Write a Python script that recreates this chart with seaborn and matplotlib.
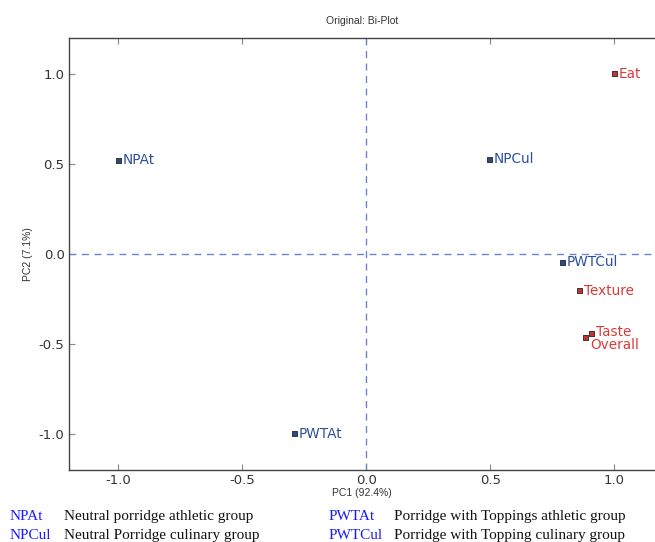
import numpy as np
import pandas as pd
import matplotlib.pyplot as plt
import seaborn as sns

# -----------------------------
# Bi-plot scores / loadings
# -----------------------------
labels = ["NPAt", "NPCul", "PWTAt", "PWTCul", "Eat", "Texture", "Taste", "Overall"]
pc1 = [-1.0, 0.497, -0.29, 0.79, 1.0, 0.86, 0.91, 0.885]
pc2 = [0.52, 0.526, -1.0, -0.045, 1.0, -0.205, -0.443, -0.465]
kind = ["sample", "sample", "sample", "sample", "attribute", "attribute", "attribute", "attribute"]

legend_codes = ["NPAt", "NPCul", "PWTAt", "PWTCul"]
legend_texts = ["Neutral porridge athletic group", "Neutral Porridge culinary group",
                "Porridge with Toppings athletic group", "Porridge with Topping culinary group"]

df = pd.DataFrame({"label": labels, "PC1": pc1, "PC2": pc2, "kind": kind})

sns.set_style("white")
plt.rcParams["font.family"] = ["DejaVu Sans"]
plt.rcParams["axes.unicode_minus"] = False

fill = {"sample": "#2a4a8e", "attribute": "#c83232"}
textc = {"sample": "#2d4f9a", "attribute": "#d83c3c"}

fig = plt.figure(figsize=(6.55, 5.42), dpi=100)
ax = fig.add_axes([0.105, 0.133, 0.895, 0.797])

sns.scatterplot(data=df, x="PC1", y="PC2", hue="kind", palette=fill, marker="s",
                s=13, edgecolor="#222222", linewidth=0.6, legend=False, ax=ax, zorder=3)

ax.axhline(0, color="#6a86c8", ls=(0, (5, 4)), lw=1.0, zorder=1)
ax.axvline(0, color="#6a86c8", ls=(0, (5, 4)), lw=1.0, zorder=1)

for _, r in df.iterrows():
    dy = 0.0
    va = "center"
    if r["label"] == "Taste":
        dy = 0.012
    if r["label"] == "Overall":
        dy = -0.002
        va = "top"
    ax.text(r["PC1"] + 0.018, r["PC2"] + dy, r["label"], color=textc[r["kind"]],
            fontsize=9.8, va=va, ha="left", zorder=4)

ax.set_xlim(-1.2, 1.165)
ax.set_ylim(-1.2, 1.2)
ax.set_xticks([-1.0, -0.5, 0.0, 0.5, 1.0])
ax.set_yticks([-1.0, -0.5, 0.0, 0.5, 1.0])
ax.tick_params(direction="in", length=4, color="#888888", labelsize=9.5,
               labelcolor="#333333", top=True, bottom=True, left=True, pad=3)
for side in ["left", "bottom", "top"]:
    ax.spines[side].set_color("#444444")
    ax.spines[side].set_linewidth(1.0)
ax.spines["right"].set_visible(False)

ax.set_xlabel("PC1 (92.4%)", fontsize=7.5, family="Liberation Sans", color="#333333", labelpad=1)
ax.set_ylabel("PC2 (7.1%)", fontsize=7.5, family="Liberation Sans", color="#333333", labelpad=4)
ax.set_title("Original: Bi-Plot", fontsize=7.5, family="Liberation Sans", color="#333333", pad=10)

# bottom legend
rows_y = [0.047, 0.012]
for i, (code, txt) in enumerate(zip(legend_codes, legend_texts)):
    col = i // 2
    row = i % 2
    xc = [0.015, 0.501][col]
    xt = [0.097, 0.602][col]
    fig.text(xc, rows_y[row], code, color="#1a1aff", fontsize=11,
             family="Liberation Serif", va="center")
    fig.text(xt, rows_y[row], txt, color="#111111", fontsize=11,
             family="Liberation Serif", va="center")

fig.savefig("out.png", dpi=100)
